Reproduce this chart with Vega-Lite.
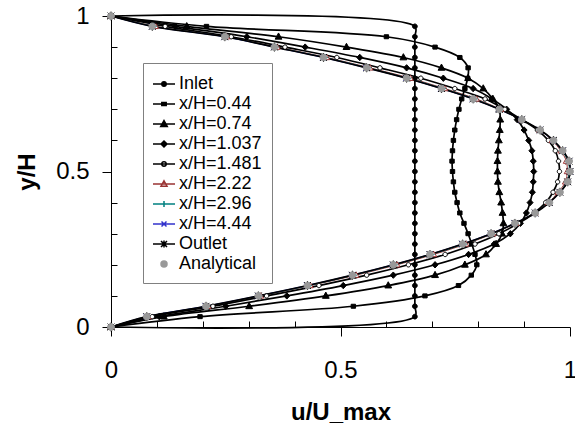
{
"$schema": "https://vega.github.io/schema/vega-lite/v6.json",
"width": 459, "height": 311,
"autosize": {"type": "none"},
"padding": {"left": 111, "top": 16, "right": 5, "bottom": 96},
"background": "white",
"config": {
  "view": {"stroke": null},
  "font": "Liberation Sans",
  "axis": {"domainColor": "black", "tickColor": "black", "labelColor": "black", "titleColor": "black", "labelFont": "Liberation Sans", "titleFont": "Liberation Sans", "labelFontSize": 24, "titleFontSize": 24, "titleFontWeight": "bold", "grid": false, "domainWidth": 1, "tickWidth": 1, "labelOverlap": false}
},
"data": {"values": [
{"s":"Inlet","y":0,"u":0},{"s":"Inlet","y":0.0333,"u":0.662},{"s":"Inlet","y":0.0667,"u":0.662},{"s":"Inlet","y":0.1,"u":0.662},{"s":"Inlet","y":0.1333,"u":0.662},{"s":"Inlet","y":0.1667,"u":0.662},{"s":"Inlet","y":0.2,"u":0.662},{"s":"Inlet","y":0.2333,"u":0.662},{"s":"Inlet","y":0.2667,"u":0.662},{"s":"Inlet","y":0.3,"u":0.662},{"s":"Inlet","y":0.3333,"u":0.662},{"s":"Inlet","y":0.3667,"u":0.662},{"s":"Inlet","y":0.4,"u":0.662},{"s":"Inlet","y":0.4333,"u":0.662},{"s":"Inlet","y":0.4667,"u":0.662},{"s":"Inlet","y":0.5,"u":0.662},{"s":"Inlet","y":0.5333,"u":0.662},{"s":"Inlet","y":0.5667,"u":0.662},{"s":"Inlet","y":0.6,"u":0.662},{"s":"Inlet","y":0.6333,"u":0.662},{"s":"Inlet","y":0.6667,"u":0.662},{"s":"Inlet","y":0.7,"u":0.662},{"s":"Inlet","y":0.7333,"u":0.662},{"s":"Inlet","y":0.7667,"u":0.662},{"s":"Inlet","y":0.8,"u":0.662},{"s":"Inlet","y":0.8333,"u":0.662},{"s":"Inlet","y":0.8667,"u":0.662},{"s":"Inlet","y":0.9,"u":0.662},{"s":"Inlet","y":0.9333,"u":0.662},{"s":"Inlet","y":0.9667,"u":0.662},{"s":"Inlet","y":1,"u":0},
{"s":"x/H=0.44","y":0,"u":0},{"s":"x/H=0.44","y":0.0333,"u":0.194},{"s":"x/H=0.44","y":0.0667,"u":0.528},{"s":"x/H=0.44","y":0.1,"u":0.684},{"s":"x/H=0.44","y":0.1333,"u":0.757},{"s":"x/H=0.44","y":0.1667,"u":0.785},{"s":"x/H=0.44","y":0.2,"u":0.797},{"s":"x/H=0.44","y":0.2333,"u":0.793},{"s":"x/H=0.44","y":0.2667,"u":0.786},{"s":"x/H=0.44","y":0.3,"u":0.778},{"s":"x/H=0.44","y":0.3333,"u":0.769},{"s":"x/H=0.44","y":0.3667,"u":0.76},{"s":"x/H=0.44","y":0.4,"u":0.754},{"s":"x/H=0.44","y":0.4333,"u":0.749},{"s":"x/H=0.44","y":0.4667,"u":0.746},{"s":"x/H=0.44","y":0.5,"u":0.744},{"s":"x/H=0.44","y":0.5333,"u":0.743},{"s":"x/H=0.44","y":0.5667,"u":0.744},{"s":"x/H=0.44","y":0.6,"u":0.746},{"s":"x/H=0.44","y":0.6333,"u":0.749},{"s":"x/H=0.44","y":0.6667,"u":0.753},{"s":"x/H=0.44","y":0.7,"u":0.758},{"s":"x/H=0.44","y":0.7333,"u":0.764},{"s":"x/H=0.44","y":0.7667,"u":0.771},{"s":"x/H=0.44","y":0.8,"u":0.777},{"s":"x/H=0.44","y":0.8333,"u":0.778},{"s":"x/H=0.44","y":0.8667,"u":0.76},{"s":"x/H=0.44","y":0.9,"u":0.706},{"s":"x/H=0.44","y":0.9333,"u":0.6},{"s":"x/H=0.44","y":0.9667,"u":0.208},{"s":"x/H=0.44","y":1,"u":0},
{"s":"x/H=0.74","y":0,"u":0},{"s":"x/H=0.74","y":0.0333,"u":0.115},{"s":"x/H=0.74","y":0.0667,"u":0.301},{"s":"x/H=0.74","y":0.1,"u":0.468},{"s":"x/H=0.74","y":0.1333,"u":0.604},{"s":"x/H=0.74","y":0.1667,"u":0.706},{"s":"x/H=0.74","y":0.2,"u":0.771},{"s":"x/H=0.74","y":0.2333,"u":0.817},{"s":"x/H=0.74","y":0.2667,"u":0.839},{"s":"x/H=0.74","y":0.3,"u":0.852},{"s":"x/H=0.74","y":0.3333,"u":0.855},{"s":"x/H=0.74","y":0.3667,"u":0.853},{"s":"x/H=0.74","y":0.4,"u":0.85},{"s":"x/H=0.74","y":0.4333,"u":0.846},{"s":"x/H=0.74","y":0.4667,"u":0.843},{"s":"x/H=0.74","y":0.5,"u":0.842},{"s":"x/H=0.74","y":0.5333,"u":0.842},{"s":"x/H=0.74","y":0.5667,"u":0.843},{"s":"x/H=0.74","y":0.6,"u":0.845},{"s":"x/H=0.74","y":0.6333,"u":0.847},{"s":"x/H=0.74","y":0.6667,"u":0.848},{"s":"x/H=0.74","y":0.7,"u":0.846},{"s":"x/H=0.74","y":0.7333,"u":0.832},{"s":"x/H=0.74","y":0.7667,"u":0.811},{"s":"x/H=0.74","y":0.8,"u":0.778},{"s":"x/H=0.74","y":0.8333,"u":0.72},{"s":"x/H=0.74","y":0.8667,"u":0.637},{"s":"x/H=0.74","y":0.9,"u":0.513},{"s":"x/H=0.74","y":0.9333,"u":0.365},{"s":"x/H=0.74","y":0.9667,"u":0.165},{"s":"x/H=0.74","y":1,"u":0},
{"s":"x/H=1.037","y":0,"u":0},{"s":"x/H=1.037","y":0.0333,"u":0.105},{"s":"x/H=1.037","y":0.0667,"u":0.25},{"s":"x/H=1.037","y":0.1,"u":0.383},{"s":"x/H=1.037","y":0.1333,"u":0.506},{"s":"x/H=1.037","y":0.1667,"u":0.615},{"s":"x/H=1.037","y":0.2,"u":0.706},{"s":"x/H=1.037","y":0.2333,"u":0.779},{"s":"x/H=1.037","y":0.2667,"u":0.835},{"s":"x/H=1.037","y":0.3,"u":0.87},{"s":"x/H=1.037","y":0.3333,"u":0.892},{"s":"x/H=1.037","y":0.3667,"u":0.905},{"s":"x/H=1.037","y":0.4,"u":0.913},{"s":"x/H=1.037","y":0.4333,"u":0.918},{"s":"x/H=1.037","y":0.4667,"u":0.92},{"s":"x/H=1.037","y":0.5,"u":0.921},{"s":"x/H=1.037","y":0.5333,"u":0.92},{"s":"x/H=1.037","y":0.5667,"u":0.917},{"s":"x/H=1.037","y":0.6,"u":0.91},{"s":"x/H=1.037","y":0.6333,"u":0.9},{"s":"x/H=1.037","y":0.6667,"u":0.885},{"s":"x/H=1.037","y":0.7,"u":0.862},{"s":"x/H=1.037","y":0.7333,"u":0.83},{"s":"x/H=1.037","y":0.7667,"u":0.789},{"s":"x/H=1.037","y":0.8,"u":0.724},{"s":"x/H=1.037","y":0.8333,"u":0.644},{"s":"x/H=1.037","y":0.8667,"u":0.542},{"s":"x/H=1.037","y":0.9,"u":0.423},{"s":"x/H=1.037","y":0.9333,"u":0.296},{"s":"x/H=1.037","y":0.9667,"u":0.14},{"s":"x/H=1.037","y":1,"u":0},
{"s":"x/H=1.481","y":0,"u":0},{"s":"x/H=1.481","y":0.0333,"u":0.09},{"s":"x/H=1.481","y":0.0667,"u":0.222},{"s":"x/H=1.481","y":0.1,"u":0.339},{"s":"x/H=1.481","y":0.1333,"u":0.453},{"s":"x/H=1.481","y":0.1667,"u":0.557},{"s":"x/H=1.481","y":0.2,"u":0.648},{"s":"x/H=1.481","y":0.2333,"u":0.728},{"s":"x/H=1.481","y":0.2667,"u":0.793},{"s":"x/H=1.481","y":0.3,"u":0.845},{"s":"x/H=1.481","y":0.3333,"u":0.888},{"s":"x/H=1.481","y":0.3667,"u":0.922},{"s":"x/H=1.481","y":0.4,"u":0.947},{"s":"x/H=1.481","y":0.4333,"u":0.963},{"s":"x/H=1.481","y":0.4667,"u":0.973},{"s":"x/H=1.481","y":0.5,"u":0.977},{"s":"x/H=1.481","y":0.5333,"u":0.975},{"s":"x/H=1.481","y":0.5667,"u":0.968},{"s":"x/H=1.481","y":0.6,"u":0.953},{"s":"x/H=1.481","y":0.6333,"u":0.929},{"s":"x/H=1.481","y":0.6667,"u":0.895},{"s":"x/H=1.481","y":0.7,"u":0.858},{"s":"x/H=1.481","y":0.7333,"u":0.815},{"s":"x/H=1.481","y":0.7667,"u":0.749},{"s":"x/H=1.481","y":0.8,"u":0.675},{"s":"x/H=1.481","y":0.8333,"u":0.586},{"s":"x/H=1.481","y":0.8667,"u":0.492},{"s":"x/H=1.481","y":0.9,"u":0.379},{"s":"x/H=1.481","y":0.9333,"u":0.262},{"s":"x/H=1.481","y":0.9667,"u":0.118},{"s":"x/H=1.481","y":1,"u":0},
{"s":"x/H=2.22","y":0,"u":0},{"s":"x/H=2.22","y":0.0333,"u":0.081},{"s":"x/H=2.22","y":0.0667,"u":0.211},{"s":"x/H=2.22","y":0.1,"u":0.326},{"s":"x/H=2.22","y":0.1333,"u":0.434},{"s":"x/H=2.22","y":0.1667,"u":0.534},{"s":"x/H=2.22","y":0.2,"u":0.623},{"s":"x/H=2.22","y":0.2333,"u":0.703},{"s":"x/H=2.22","y":0.2667,"u":0.773},{"s":"x/H=2.22","y":0.3,"u":0.832},{"s":"x/H=2.22","y":0.3333,"u":0.882},{"s":"x/H=2.22","y":0.3667,"u":0.924},{"s":"x/H=2.22","y":0.4,"u":0.953},{"s":"x/H=2.22","y":0.4333,"u":0.974},{"s":"x/H=2.22","y":0.4667,"u":0.99},{"s":"x/H=2.22","y":0.5,"u":0.994},{"s":"x/H=2.22","y":0.5333,"u":0.992},{"s":"x/H=2.22","y":0.5667,"u":0.98},{"s":"x/H=2.22","y":0.6,"u":0.961},{"s":"x/H=2.22","y":0.6333,"u":0.934},{"s":"x/H=2.22","y":0.6667,"u":0.895},{"s":"x/H=2.22","y":0.7,"u":0.849},{"s":"x/H=2.22","y":0.7333,"u":0.796},{"s":"x/H=2.22","y":0.7667,"u":0.727},{"s":"x/H=2.22","y":0.8,"u":0.652},{"s":"x/H=2.22","y":0.8333,"u":0.564},{"s":"x/H=2.22","y":0.8667,"u":0.47},{"s":"x/H=2.22","y":0.9,"u":0.362},{"s":"x/H=2.22","y":0.9333,"u":0.252},{"s":"x/H=2.22","y":0.9667,"u":0.097},{"s":"x/H=2.22","y":1,"u":0},
{"s":"x/H=2.96","y":0,"u":0},{"s":"x/H=2.96","y":0.0333,"u":0.079},{"s":"x/H=2.96","y":0.0667,"u":0.209},{"s":"x/H=2.96","y":0.1,"u":0.323},{"s":"x/H=2.96","y":0.1333,"u":0.431},{"s":"x/H=2.96","y":0.1667,"u":0.529},{"s":"x/H=2.96","y":0.2,"u":0.618},{"s":"x/H=2.96","y":0.2333,"u":0.698},{"s":"x/H=2.96","y":0.2667,"u":0.769},{"s":"x/H=2.96","y":0.3,"u":0.83},{"s":"x/H=2.96","y":0.3333,"u":0.881},{"s":"x/H=2.96","y":0.3667,"u":0.924},{"s":"x/H=2.96","y":0.4,"u":0.954},{"s":"x/H=2.96","y":0.4333,"u":0.977},{"s":"x/H=2.96","y":0.4667,"u":0.993},{"s":"x/H=2.96","y":0.5,"u":0.998},{"s":"x/H=2.96","y":0.5333,"u":0.996},{"s":"x/H=2.96","y":0.5667,"u":0.982},{"s":"x/H=2.96","y":0.6,"u":0.963},{"s":"x/H=2.96","y":0.6333,"u":0.934},{"s":"x/H=2.96","y":0.6667,"u":0.895},{"s":"x/H=2.96","y":0.7,"u":0.847},{"s":"x/H=2.96","y":0.7333,"u":0.792},{"s":"x/H=2.96","y":0.7667,"u":0.723},{"s":"x/H=2.96","y":0.8,"u":0.647},{"s":"x/H=2.96","y":0.8333,"u":0.56},{"s":"x/H=2.96","y":0.8667,"u":0.466},{"s":"x/H=2.96","y":0.9,"u":0.358},{"s":"x/H=2.96","y":0.9333,"u":0.249},{"s":"x/H=2.96","y":0.9667,"u":0.093},{"s":"x/H=2.96","y":1,"u":0},
{"s":"x/H=4.44","y":0,"u":0},{"s":"x/H=4.44","y":0.0333,"u":0.077},{"s":"x/H=4.44","y":0.0667,"u":0.206},{"s":"x/H=4.44","y":0.1,"u":0.32},{"s":"x/H=4.44","y":0.1333,"u":0.427},{"s":"x/H=4.44","y":0.1667,"u":0.525},{"s":"x/H=4.44","y":0.2,"u":0.614},{"s":"x/H=4.44","y":0.2333,"u":0.694},{"s":"x/H=4.44","y":0.2667,"u":0.765},{"s":"x/H=4.44","y":0.3,"u":0.827},{"s":"x/H=4.44","y":0.3333,"u":0.879},{"s":"x/H=4.44","y":0.3667,"u":0.923},{"s":"x/H=4.44","y":0.4,"u":0.955},{"s":"x/H=4.44","y":0.4333,"u":0.978},{"s":"x/H=4.44","y":0.4667,"u":0.995},{"s":"x/H=4.44","y":0.5,"u":1},{"s":"x/H=4.44","y":0.5333,"u":0.998},{"s":"x/H=4.44","y":0.5667,"u":0.984},{"s":"x/H=4.44","y":0.6,"u":0.963},{"s":"x/H=4.44","y":0.6333,"u":0.934},{"s":"x/H=4.44","y":0.6667,"u":0.894},{"s":"x/H=4.44","y":0.7,"u":0.845},{"s":"x/H=4.44","y":0.7333,"u":0.788},{"s":"x/H=4.44","y":0.7667,"u":0.719},{"s":"x/H=4.44","y":0.8,"u":0.643},{"s":"x/H=4.44","y":0.8333,"u":0.556},{"s":"x/H=4.44","y":0.8667,"u":0.462},{"s":"x/H=4.44","y":0.9,"u":0.355},{"s":"x/H=4.44","y":0.9333,"u":0.247},{"s":"x/H=4.44","y":0.9667,"u":0.089},{"s":"x/H=4.44","y":1,"u":0},
{"s":"Outlet","y":0,"u":0},{"s":"Outlet","y":0.0333,"u":0.078},{"s":"Outlet","y":0.0667,"u":0.207},{"s":"Outlet","y":0.1,"u":0.321},{"s":"Outlet","y":0.1333,"u":0.428},{"s":"Outlet","y":0.1667,"u":0.526},{"s":"Outlet","y":0.2,"u":0.615},{"s":"Outlet","y":0.2333,"u":0.695},{"s":"Outlet","y":0.2667,"u":0.766},{"s":"Outlet","y":0.3,"u":0.828},{"s":"Outlet","y":0.3333,"u":0.88},{"s":"Outlet","y":0.3667,"u":0.924},{"s":"Outlet","y":0.4,"u":0.955},{"s":"Outlet","y":0.4333,"u":0.978},{"s":"Outlet","y":0.4667,"u":0.995},{"s":"Outlet","y":0.5,"u":1},{"s":"Outlet","y":0.5333,"u":0.998},{"s":"Outlet","y":0.5667,"u":0.984},{"s":"Outlet","y":0.6,"u":0.964},{"s":"Outlet","y":0.6333,"u":0.935},{"s":"Outlet","y":0.6667,"u":0.895},{"s":"Outlet","y":0.7,"u":0.846},{"s":"Outlet","y":0.7333,"u":0.789},{"s":"Outlet","y":0.7667,"u":0.72},{"s":"Outlet","y":0.8,"u":0.644},{"s":"Outlet","y":0.8333,"u":0.557},{"s":"Outlet","y":0.8667,"u":0.463},{"s":"Outlet","y":0.9,"u":0.356},{"s":"Outlet","y":0.9333,"u":0.248},{"s":"Outlet","y":0.9667,"u":0.09},{"s":"Outlet","y":1,"u":0},
{"s":"Analytical","y":0,"u":0},{"s":"Analytical","y":0.0333,"u":0.078},{"s":"Analytical","y":0.0667,"u":0.207},{"s":"Analytical","y":0.1,"u":0.321},{"s":"Analytical","y":0.1333,"u":0.428},{"s":"Analytical","y":0.1667,"u":0.526},{"s":"Analytical","y":0.2,"u":0.615},{"s":"Analytical","y":0.2333,"u":0.695},{"s":"Analytical","y":0.2667,"u":0.766},{"s":"Analytical","y":0.3,"u":0.828},{"s":"Analytical","y":0.3333,"u":0.88},{"s":"Analytical","y":0.3667,"u":0.924},{"s":"Analytical","y":0.4,"u":0.955},{"s":"Analytical","y":0.4333,"u":0.978},{"s":"Analytical","y":0.4667,"u":0.995},{"s":"Analytical","y":0.5,"u":1},{"s":"Analytical","y":0.5333,"u":0.998},{"s":"Analytical","y":0.5667,"u":0.984},{"s":"Analytical","y":0.6,"u":0.964},{"s":"Analytical","y":0.6333,"u":0.935},{"s":"Analytical","y":0.6667,"u":0.895},{"s":"Analytical","y":0.7,"u":0.846},{"s":"Analytical","y":0.7333,"u":0.789},{"s":"Analytical","y":0.7667,"u":0.72},{"s":"Analytical","y":0.8,"u":0.644},{"s":"Analytical","y":0.8333,"u":0.557},{"s":"Analytical","y":0.8667,"u":0.463},{"s":"Analytical","y":0.9,"u":0.356},{"s":"Analytical","y":0.9333,"u":0.248},{"s":"Analytical","y":0.9667,"u":0.09},{"s":"Analytical","y":1,"u":0}
]},
"encoding": {
  "x": {"field": "u", "type": "quantitative", "scale": {"domain": [0, 1], "nice": false, "zero": false},
    "axis": {"title": "u/U_max", "values": [0,0.1,0.2,0.3,0.4,0.5,0.6,0.7,0.8,0.9,1], "format": "~g", "labelFlush": false,
      "labelExpr": "abs(datum.value*2-round(datum.value*2)) < 0.001 ? datum.label : ''",
      "tickSize": {"condition": {"test": "abs(datum.value*2-round(datum.value*2)) < 0.001", "value": 9}, "value": -6},
      "labelPadding": 22, "titlePadding": 18}},
  "y": {"field": "y", "type": "quantitative", "scale": {"domain": [0, 1], "nice": false, "zero": false},
    "axis": {"title": "y/H", "values": [0,0.1,0.2,0.3,0.4,0.5,0.6,0.7,0.8,0.9,1], "format": "~g",
      "labelExpr": "abs(datum.value*2-round(datum.value*2)) < 0.001 ? datum.label : ''",
      "tickSize": {"condition": {"test": "abs(datum.value*2-round(datum.value*2)) < 0.001", "value": 9}, "value": -6},
      "labelPadding": 13, "titlePadding": 16}}
},
"layer": [
  {"transform": [{"filter": {"field": "s", "equal": "x/H=2.22"}}],
   "mark": {"type": "line", "strokeWidth": 1, "interpolate": "catmull-rom", "stroke": "#993333"},
   "encoding": {"order": {"field": "y", "type": "quantitative"}}},
  {"transform": [{"filter": {"field": "s", "equal": "x/H=2.96"}}],
   "mark": {"type": "line", "strokeWidth": 1, "interpolate": "catmull-rom", "stroke": "#008080"},
   "encoding": {"order": {"field": "y", "type": "quantitative"}}},
  {"transform": [{"filter": {"field": "s", "equal": "x/H=4.44"}}],
   "mark": {"type": "line", "strokeWidth": 1, "interpolate": "catmull-rom", "stroke": "#3333CC"},
   "encoding": {"order": {"field": "y", "type": "quantitative"}}},
  {"transform": [{"filter": {"field": "s", "oneOf": ["Inlet","x/H=0.44","x/H=0.74","x/H=1.037","x/H=1.481","Outlet"]}}],
   "mark": {"type": "line", "strokeWidth": 1.7, "interpolate": "catmull-rom", "stroke": "black"},
   "encoding": {"detail": {"field": "s", "type": "nominal"}, "order": {"field": "y", "type": "quantitative"}}},
  {"mark": {"type": "point", "size": 64, "opacity": 1, "strokeWidth": 1},
   "encoding": {
     "shape": {"field": "s", "type": "nominal", "legend": null,
       "scale": {"domain": ["Inlet","x/H=0.44","x/H=0.74","x/H=1.037","x/H=1.481","x/H=2.22","x/H=2.96","x/H=4.44","Outlet","Analytical"],
         "range": ["M-0.6,0A0.6,0.6 0 1,0 0.6,0A0.6,0.6 0 1,0 -0.6,0Z","M-0.55,-0.5H0.55V0.5H-0.55Z","M0,-0.95L0.85,0.6H-0.85Z","M0,-0.8L0.75,0L0,0.8L-0.75,0Z","M-0.55,0A0.55,0.55 0 1,0 0.55,0A0.55,0.55 0 1,0 -0.55,0Z","M0,-0.8L0.75,0.55H-0.75Z","M-0.8,0H0.8M0,-0.8V0.8","M-0.7,-0.7L0.7,0.7M-0.7,0.7L0.7,-0.7","M-0.85,-0.85L0.85,0.85M-0.85,0.85L0.85,-0.85M0,-1.1V1.1","M-0.85,0A0.85,0.85 0 1,0 0.85,0A0.85,0.85 0 1,0 -0.85,0Z"]}},
     "fill": {"field": "s", "type": "nominal", "legend": null,
       "scale": {"domain": ["Inlet","x/H=0.44","x/H=0.74","x/H=1.037","x/H=1.481","x/H=2.22","x/H=2.96","x/H=4.44","Outlet","Analytical"],
                 "range": ["black","black","black","black","white","white","#008080","#3333CC","black","#999999"]}},
     "stroke": {"field": "s", "type": "nominal", "legend": null,
       "scale": {"domain": ["Inlet","x/H=0.44","x/H=0.74","x/H=1.037","x/H=1.481","x/H=2.22","x/H=2.96","x/H=4.44","Outlet","Analytical"],
                 "range": ["black","black","black","black","black","#993333","#008080","#3333CC","black","#999999"]}}
   }},
  {"transform": [{"filter": "datum.u > 5"}],
   "mark": {"type": "point", "size": 400, "opacity": 1, "strokeWidth": 1.5},
   "encoding": {
     "shape": {"field": "s", "type": "nominal",
       "scale": {"domain": ["Inlet","x/H=0.44","x/H=0.74","x/H=1.037","x/H=1.481","x/H=2.22","x/H=2.96","x/H=4.44","Outlet","Analytical"],
         "range": ["M-1.1,0H1.1M-0.22,0A0.22,0.22 0 1,0 0.22,0A0.22,0.22 0 1,0 -0.22,0Z","M-1.1,0H1.1M-0.22,-0.15H0.22V0.15H-0.22Z","M-1.1,0H1.1M0,-0.35L0.33,0.25H-0.33Z","M-1.1,0H1.1M0,-0.3L0.3,0L0,0.3L-0.3,0Z","M-1.1,0H1.1M-0.22,0A0.22,0.22 0 1,0 0.22,0A0.22,0.22 0 1,0 -0.22,0Z","M-1.1,0H1.1M0,-0.32L0.3,0.22H-0.3Z","M-1.1,0H1.1M0,-0.3V0.3","M-1.1,0H1.1M-0.25,-0.25L0.25,0.25M-0.25,0.25L0.25,-0.25","M-1.1,0H1.1M-0.3,-0.3L0.3,0.3M-0.3,0.3L0.3,-0.3M0,-0.36V0.36","M-0.3,0A0.3,0.3 0 1,0 0.3,0A0.3,0.3 0 1,0 -0.3,0Z"]},
       "legend": {"orient": "none", "legendX": 32, "legendY": 47, "title": null, "padding": 10,
         "strokeColor": "#808080", "fillColor": "white", "labelFontSize": 18, "labelFont": "Liberation Sans", "labelColor": "black",
         "labelOffset": 4, "rowPadding": -2.5, "symbolStrokeWidth": 1.5, "symbolSize": 400}},
     "fill": {"field": "s", "type": "nominal",
       "scale": {"domain": ["Inlet","x/H=0.44","x/H=0.74","x/H=1.037","x/H=1.481","x/H=2.22","x/H=2.96","x/H=4.44","Outlet","Analytical"],
                 "range": ["black","black","black","black","white","white","black","#000080","black","#999999"]},
       "legend": {"orient": "none", "legendX": 32, "legendY": 47, "title": null, "padding": 10,
         "strokeColor": "#808080", "fillColor": "white", "labelFontSize": 18, "labelFont": "Liberation Sans", "labelColor": "black",
         "labelOffset": 4, "rowPadding": -2.5, "symbolStrokeWidth": 1.5, "symbolSize": 400}},
     "stroke": {"field": "s", "type": "nominal",
       "scale": {"domain": ["Inlet","x/H=0.44","x/H=0.74","x/H=1.037","x/H=1.481","x/H=2.22","x/H=2.96","x/H=4.44","Outlet","Analytical"],
                 "range": ["black","black","black","black","black","#993333","#008080","#3333CC","black","#999999"]},
       "legend": {"orient": "none", "legendX": 32, "legendY": 47, "title": null, "padding": 10,
         "strokeColor": "#808080", "fillColor": "white", "labelFontSize": 18, "labelFont": "Liberation Sans", "labelColor": "black",
         "labelOffset": 4, "rowPadding": -2.5, "symbolStrokeWidth": 1.5, "symbolSize": 400}}
   }}
],
"resolve": {"scale": {"shape": "independent", "fill": "independent", "stroke": "independent"}}
}
